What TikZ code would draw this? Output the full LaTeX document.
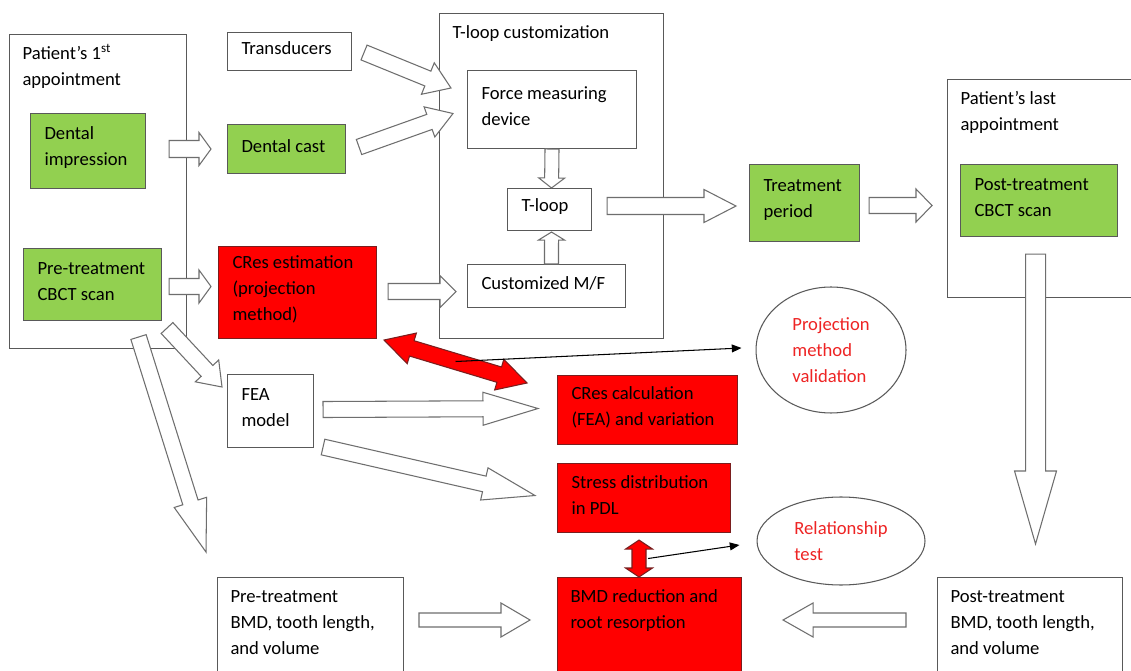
\documentclass[tikz,border=0pt]{standalone}
\usepackage{fontspec}
\setmainfont{Carlito}
\usetikzlibrary{calc}
\usetikzlibrary{arrows.meta}
\usetikzlibrary{shapes.geometric}

\definecolor{boxgreen}{HTML}{92D050}
\definecolor{boxred}{HTML}{FF0000}
\definecolor{redline}{HTML}{7A1E1E}
\definecolor{frameline}{HTML}{595959}
\definecolor{arrowline}{HTML}{6E6E6E}
\definecolor{ovaltext}{HTML}{EE2424}

\hyphenpenalty=10000
\exhyphenpenalty=10000

% hollow block arrow: [style]{tail}{tip}{shaft half}{head half}{head length}, sizes in px
\newcommand{\blockarrow}[6][hollow]{%
  \path (#2) coordinate (ba-t) (#3) coordinate (ba-p);
  \coordinate (ba-h) at ($(ba-p)!#6*0.02cm!(ba-t)$);
  \draw[#1] ($(ba-t)!#4*0.02cm!90:(ba-p)$) -- ($(ba-h)!#4*0.02cm!90:(ba-p)$)
    -- ($(ba-h)!#5*0.02cm!90:(ba-p)$) -- (ba-p)
    -- ($(ba-h)!#5*0.02cm!-90:(ba-p)$) -- ($(ba-h)!#4*0.02cm!-90:(ba-p)$)
    -- ($(ba-t)!#4*0.02cm!-90:(ba-p)$) -- cycle;
}
% block arrow with a head at both ends, same arguments
\newcommand{\twinarrow}[6][redarrow]{%
  \path (#2) coordinate (tw-a) (#3) coordinate (tw-b);
  \coordinate (tw-ha) at ($(tw-a)!#6*0.02cm!(tw-b)$);
  \coordinate (tw-hb) at ($(tw-b)!#6*0.02cm!(tw-a)$);
  \draw[#1] (tw-a) -- ($(tw-ha)!#5*0.02cm!90:(tw-b)$) -- ($(tw-ha)!#4*0.02cm!90:(tw-b)$)
    -- ($(tw-hb)!#4*0.02cm!-90:(tw-a)$) -- ($(tw-hb)!#5*0.02cm!-90:(tw-a)$) -- (tw-b)
    -- ($(tw-hb)!#5*0.02cm!90:(tw-a)$) -- ($(tw-hb)!#4*0.02cm!90:(tw-a)$)
    -- ($(tw-ha)!#4*0.02cm!-90:(tw-b)$) -- ($(tw-ha)!#5*0.02cm!-90:(tw-b)$) -- cycle;
}

\begin{document}
\begin{tikzpicture}[x=0.02cm, y=-0.02cm,
  font=\fontsize{10.6}{14.8}\selectfont,
  box/.style={draw=frameline, fill=white, line width=0.6pt, anchor=north west,
    align=flush left, inner xsep=0.28cm, inner ysep=0pt,
    execute at end node={\endgraf\kern 0.12cm}},
  greenbox/.style={box, fill=boxgreen},
  redbox/.style={box, fill=boxred, draw=redline},
  frame/.style={draw=frameline, line width=0.6pt, anchor=north west, align=flush left,
    inner xsep=0.26cm, inner ysep=0.2cm, text height=0.3cm},
  oval/.style={ellipse, draw=frameline, line width=0.6pt, fill=white, align=flush left,
    text=ovaltext, inner sep=0pt},
  hollow/.style={draw=arrowline, fill=white, line width=0.6pt, line join=miter},
  redarrow/.style={draw=redline, fill=boxred, line width=0.6pt},
  thinarrow/.style={draw=black, line width=0.6pt, arrows={-Triangle[length=5.5pt, width=4.5pt]}}]
%  +--1st appt--+   Transducers ==>  +--T-loop customization--+
%  | impression | ==> Dental cast ==> | Force measuring device |        +--last appt--+
%  |            |                    |   T-loop  ==============> Treatment ==> | post CBCT |
%  | pre CBCT   | ==> CRes est.  ==> | Customized M/F         |        +------||-----+
%  +------------+   <==>  FEA model ==> CRes calc    (validation)            ||
%                              ==> Stress in PDL <=> (relationship)         \/
%   pre BMD  ==>  BMD reduction / root resorption  <==  post BMD
\useasboundingbox (0,0) rectangle (1131,671);
\clip (0,0) rectangle (1131,671);
\fill[white] (0,0) rectangle (1131,671);

% containers
\node[frame, text width=3.02cm, text depth=5.58cm] (app1) at (9,34) {Patient’s 1\textsuperscript{st}\\appointment};
\node[frame, text width=3.96cm, text depth=5.8cm] (tcust) at (439,13) {T-loop customization};
\node[frame, text width=3.48cm, text depth=3.66cm] (app2) at (947,79) {Patient’s last\\appointment};

% first appointment and T-loop
\node[greenbox, text width=1.74cm, minimum height=1.5cm] (imp) at (30,113) {Dental\\impression};
\node[greenbox, text width=2.2cm, minimum height=1.44cm] (cbct1) at (23,248) {Pre-treatment\\CBCT scan};
\node[box, text width=1.92cm, minimum height=0.76cm] (trans) at (227,32) {Transducers};
\node[greenbox, text width=1.8cm, minimum height=0.98cm] (cast) at (227,124) {Dental cast};
\node[redbox, text width=2.6cm, minimum height=1.84cm] (cresest) at (218,246) {CRes estimation\\(projection\\method)};
\node[box, text width=2.82cm, minimum height=1.56cm] (force) at (467,70) {Force measuring\\device};
\node[box, text width=1.12cm, minimum height=0.84cm] (tloop) at (507,188) {T-loop};
\node[box, text width=2.6cm, minimum height=0.86cm] (mf) at (467,264) {Customized M/F};
\node[greenbox, text width=1.64cm, minimum height=1.54cm] (treat) at (749,164) {Treatment\\period};
\node[greenbox, text width=2.58cm, minimum height=1.44cm] (cbct2) at (960,164) {Post-treatment\\CBCT scan};

% analysis
\node[box, text width=1.16cm, minimum height=1.46cm] (fea) at (227,374) {FEA\\model};
\node[redbox, text width=3.04cm, minimum height=1.38cm] (crescalc) at (557,375) {CRes calculation\\(FEA) and variation};
\node[redbox, text width=2.9cm, minimum height=1.38cm] (stress) at (557,463) {Stress distribution\\in PDL};
\node[oval, minimum width=3cm, minimum height=2.52cm] (valid) at (831,350) {Projection\\method\\validation};
\node[oval, minimum width=3.36cm, minimum height=1.76cm] (rel) at (841,541) {Relationship\\test};

% bottom row
\node[frame, fill=white, text width=3.2cm, text depth=2cm] (bmd1) at (217,577) {Pre-treatment\\BMD, tooth length,\\and volume};
\node[frame, fill=boxred, draw=redline, text width=3.16cm, text depth=2cm] (bmdred) at (557,577) {BMD reduction and\\root resorption};
\node[frame, fill=white, text width=3.18cm, text depth=2cm] (bmd2) at (937,577) {Post-treatment\\BMD, tooth length,\\and volume};

% hollow arrows
\blockarrow{$(imp.east)+(23,-2)$}{$(cast.west)+(-16,0)$}{8.5}{16.5}{12}
\blockarrow{$(cbct1.east)+(7,2)$}{$(cresest.west)+(-7,-6)$}{8}{16.5}{12}
\blockarrow{$(trans.east)+(12,1)$}{$(force.north west)+(-16,18)$}{8}{17}{25}
\blockarrow{$(cast.east)+(13,-2)$}{$(force.west)+(-14,4)$}{8}{16}{25}
\blockarrow{$(force.south)+(0,0)$}{$(tloop.north)+(2,0)$}{7}{13}{10}
\blockarrow{$(mf.north)+(5,0)$}{$(tloop.south)+(2,1)$}{7}{13}{8}
\blockarrow{$(cresest.east)+(11,-1)$}{$(mf.west)+(-11,5.5)$}{8}{16}{16}
\blockarrow{$(tloop.east)+(15,-3.5)$}{$(treat.west)+(-13,3)$}{8.5}{16.5}{32}
\blockarrow{$(treat.east)+(9,2.5)$}{$(app2.west)+(-15,17)$}{8}{16.5}{16}
\blockarrow{$(cbct2.south)+(-3.5,17)$}{$(bmd2.north)+(5.5,-33)$}{10}{21}{73}
\blockarrow{$(cbct1.south east)+(5,7)$}{$(fea.north west)+(-5,13)$}{8}{16}{22}
\blockarrow{$(cbct1.south)+(46,16)$}{$(bmd1.north west)+(-11,-25)$}{8}{17}{52}
\blockarrow{$(fea.east)+(9,-1.5)$}{$(crescalc.west)+(-19,-1.5)$}{8}{16.5}{55}
\blockarrow{$(fea.south east)+(9,-1)$}{$(stress.west)+(-22,-2.5)$}{8}{16.5}{52}
\blockarrow{$(bmd1.north east)+(15,43)$}{$(bmdred.north west)+(-27,43)$}{7}{17}{29}
\blockarrow{$(bmd2.north west)+(-31,43)$}{$(bmdred.north east)+(41,43)$}{7}{17}{30}

% red double arrows and their tests
\coordinate (cres-a) at ($(cresest.south east)+(7,1)$);
\coordinate (cres-b) at ($(crescalc.north west)+(-30,8)$);
\twinarrow{cres-a}{cres-b}{8}{16}{29}
\coordinate (pdl-a) at ($(stress.south west)+(82,7)$);
\coordinate (pdl-b) at ($(bmdred.north west)+(82,0)$);
\twinarrow{pdl-a}{pdl-b}{7}{13.5}{9}
\draw[thinarrow] ($(cres-a)!0.5!(cres-b)$) -- ($(valid.west)+(-14,-2)$);
\draw[thinarrow] ($(pdl-a)!0.5!(pdl-b)+(9,0)$) -- ($(rel.west)+(-17,4)$);
\end{tikzpicture}
\end{document}
